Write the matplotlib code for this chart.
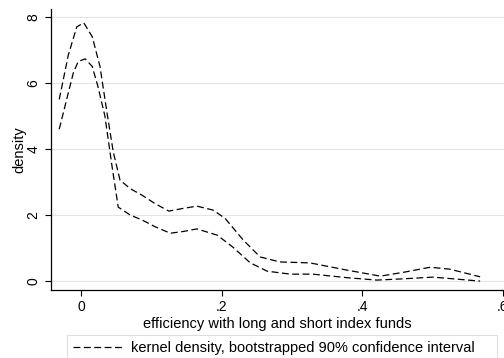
import matplotlib
matplotlib.use("Agg")
import matplotlib.pyplot as plt
from matplotlib.lines import Line2D

# Bootstrapped 90% confidence band for the kernel density estimate
upper_x = [-0.031, -0.018, -0.006, 0.004, 0.016, 0.027, 0.037, 0.046, 0.0555,
           0.070, 0.087, 0.105, 0.125, 0.145, 0.165, 0.188, 0.205, 0.231,
           0.255, 0.283, 0.326, 0.379, 0.426, 0.460, 0.497, 0.525, 0.568]
upper_y = [5.50, 6.85, 7.70, 7.82, 7.40, 6.50, 5.10, 3.90, 3.06,
           2.80, 2.60, 2.35, 2.12, 2.20, 2.27, 2.15, 1.90, 1.24,
           0.73, 0.58, 0.55, 0.33, 0.15, 0.27, 0.42, 0.36, 0.13]

lower_x = [-0.031, -0.011, -0.004, 0.006, 0.016, 0.024, 0.034, 0.044, 0.053,
           0.070, 0.087, 0.105, 0.127, 0.145, 0.165, 0.194, 0.216, 0.241,
           0.265, 0.298, 0.330, 0.380, 0.421, 0.460, 0.501, 0.540, 0.568]
lower_y = [4.60, 6.30, 6.65, 6.73, 6.50, 5.90, 5.00, 3.50, 2.24,
           2.00, 1.85, 1.65, 1.45, 1.50, 1.58, 1.39, 1.03, 0.55,
           0.30, 0.21, 0.21, 0.10, 0.03, 0.07, 0.12, 0.05, 0.00]

x_ticks = [0, 0.2, 0.4, 0.6]
x_tick_labels = ["0", ".2", ".4", ".6"]
y_ticks = [0, 2, 4, 6, 8]
y_tick_labels = ["0", "2", "4", "6", "8"]

plt.rcParams["font.family"] = ["Liberation Sans", "DejaVu Sans"]

W, H = 504, 358
fig = plt.figure(figsize=(W / 100, H / 100), dpi=100)
ax = fig.add_axes([51 / W, (H - 290) / H, (W - 51) / W, (290 - 9) / H])

dash = (0, (5.5, 2.8))
ax.plot(upper_x, upper_y, color="black", lw=0.9, linestyle=dash)
ax.plot(lower_x, lower_y, color="black", lw=0.9, linestyle=dash)

ax.set_xlim(-0.0427, 0.602)
ax.set_ylim(-0.27, 8.24)

ax.set_xticks(x_ticks)
ax.set_xticklabels(x_tick_labels)
ax.set_yticks(y_ticks)
ax.set_yticklabels(y_tick_labels, rotation=90, va="center")

for s in ("top", "right"):
    ax.spines[s].set_visible(False)
for s in ("left", "bottom"):
    ax.spines[s].set_color("black")
    ax.spines[s].set_linewidth(0.9)

ax.yaxis.grid(True, color="#e4e4e4", lw=0.8)
ax.set_axisbelow(True)
ax.tick_params(axis="both", length=4.5, width=0.8, color="black",
               labelsize=10, pad=3)

ax.set_xlabel("efficiency with long and short index funds", fontsize=10.5,
              labelpad=2)
ax.set_ylabel("density", fontsize=10.5, labelpad=0)

handle = Line2D([], [], color="black", lw=0.9, linestyle=dash)
leg = fig.legend([handle], ["kernel density, bootstrapped 90% confidence interval"],
                 loc="upper left",
                 bbox_to_anchor=(67 / W, (H - 335) / H - 0.2, 430 / W, 0.2),
                 mode="expand", borderaxespad=0, fontsize=10.5,
                 handlelength=3.45, handletextpad=0.55, borderpad=0.42,
                 fancybox=False, frameon=True)
leg.get_frame().set_edgecolor("#d8d8d8")
leg.get_frame().set_linewidth(0.8)

fig.savefig("out.png", dpi=100, facecolor="white")
